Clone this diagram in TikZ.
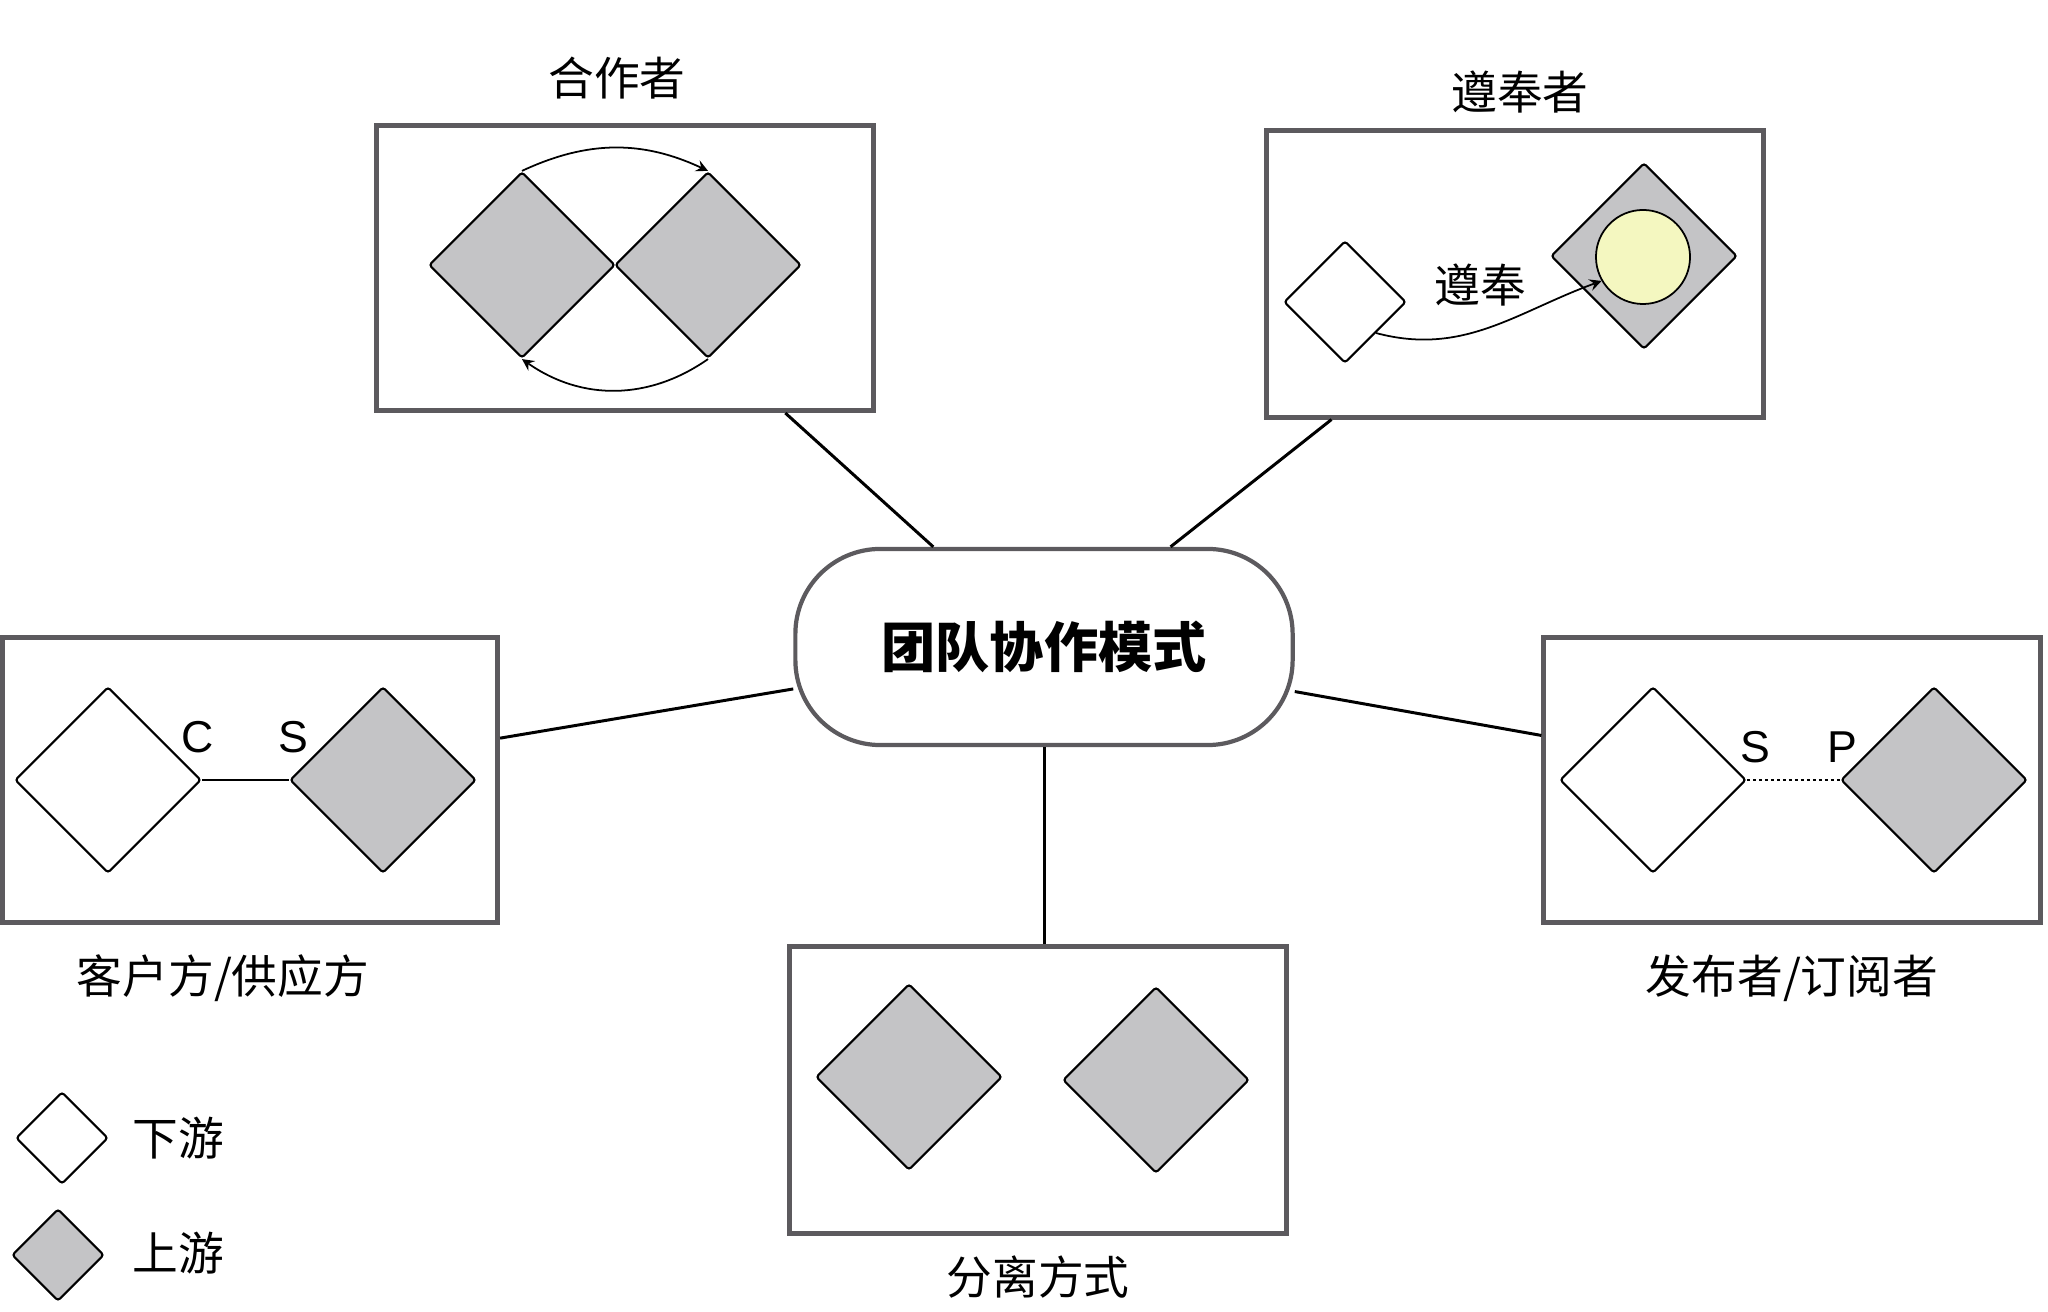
\documentclass[tikz,border=0pt]{standalone}
\usepackage{fontspec}
\setmainfont{Noto Sans CJK SC}
\newfontfamily\latin{Liberation Sans}
\usetikzlibrary{shapes.geometric}
\definecolor{upgrey}{RGB}{196,196,198}
\definecolor{boxgrey}{RGB}{92,90,94}
\definecolor{coreyellow}{RGB}{244,247,192}
\tikzset{
  panel/.style={draw=boxgrey,line width=1.4pt,minimum width=4.96cm,minimum height=2.85cm,inner sep=0pt},
  dstream/.style={diamond,draw,fill=white,line width=0.6pt,inner sep=0pt,minimum size=1.86cm,rounded corners=0.8pt},
  ustream/.style={dstream,fill=upgrey},
  lbl/.style={inner sep=0pt,font=\fontsize{13pt}{15pt}\selectfont},
  letter/.style={inner sep=0pt,font=\latin\fontsize{12.7pt}{15pt}\selectfont},
  link/.style={line width=0.85pt},
}
\begin{document}
\begin{tikzpicture}[x=0.01cm,y=0.01cm,>=stealth]
\useasboundingbox (0,0) rectangle (2048,1312);
% centre
\node[draw=boxgrey,line width=1.2pt,rounded corners=0.85cm,minimum width=4.97cm,minimum height=1.96cm,
  font=\bfseries\fontsize{15.4pt}{17pt}\selectfont] (hub) at (1044,665) {团队协作模式};

% 合作者
\node[panel] (coop) at (625,1044) {};
\node[lbl] (coopl) at (617,1234) {合作者};
\node[ustream] (ca) at (522,1047) {};
\node[ustream] (cb) at (708,1047) {};
\draw[->,line width=0.5pt] (ca.north) to[out=25,in=155] (cb.north);
\draw[->,line width=0.5pt] (cb.south) to[out=-145,in=-35] (ca.south);

% 遵奉者
\node[panel,minimum width=4.97cm,minimum height=2.86cm] (fid) at (1515,1038) {};
\node[lbl] (fidl) at (1520,1220) {遵奉者};
\node[dstream,minimum size=1.22cm] (fa) at (1345,1010) {};
\node[ustream] (fb) at (1644,1056) {};
\node[circle,draw,fill=coreyellow,line width=0.5pt,minimum size=0.94cm,inner sep=0pt] (core) at (1643,1055) {};
\draw[->,line width=0.5pt] (fa.south east) to[out=-15,in=200] (core.210);
\node[lbl] (fidt) at (1480,1027) {遵奉};

% 客户方/供应方
\node[panel,minimum width=4.95cm] (cs) at (250,532) {};
\node[lbl] (csl) at (223,334) {客户方/供应方};
\node[dstream] (cw) at (108,532) {};
\node[ustream] (sg) at (383,532) {};
\draw[line width=0.5pt] (cw.east) -- (sg.west);
\node[letter] (cc) at (198,575) {C};
\node[letter] (cs2) at (293,575) {S};

% 发布者/订阅者
\node[panel] (ps) at (1792,532) {};
\node[lbl] (psl) at (1792,334) {发布者/订阅者};
\node[dstream] (sw) at (1653,532) {};
\node[ustream] (pg) at (1934,532) {};
\draw[line width=0.5pt,dash pattern=on 0.8pt off 0.9pt] (sw.east) -- (pg.west);
\node[letter] (ss) at (1755,565) {S};
\node[letter] (pp) at (1842,565) {P};

% 分离方式
\node[panel,minimum width=4.97cm,minimum height=2.86cm] (sep) at (1038,222) {};
\node[lbl] (sepl) at (1038,35) {分离方式};
\node[ustream] (sa) at (909,235) {};
\node[ustream] (sb) at (1156,232) {};

% links
\draw[link] (hub) -- (coop);
\draw[link] (hub) -- (fid);
\draw[link] (hub) -- (cs);
\draw[link] (hub) -- (ps);
\draw[link] (hub.south) -- (hub.south |- sep.north);

% legend
\node[dstream,minimum size=0.92cm] (lgd) at (62,174) {};
\node[lbl] (lgdt) at (178,174) {下游};
\node[ustream,minimum size=0.92cm] (lgu) at (58,57) {};
\node[lbl] (lgut) at (178,59) {上游};
\end{tikzpicture}
\end{document}
